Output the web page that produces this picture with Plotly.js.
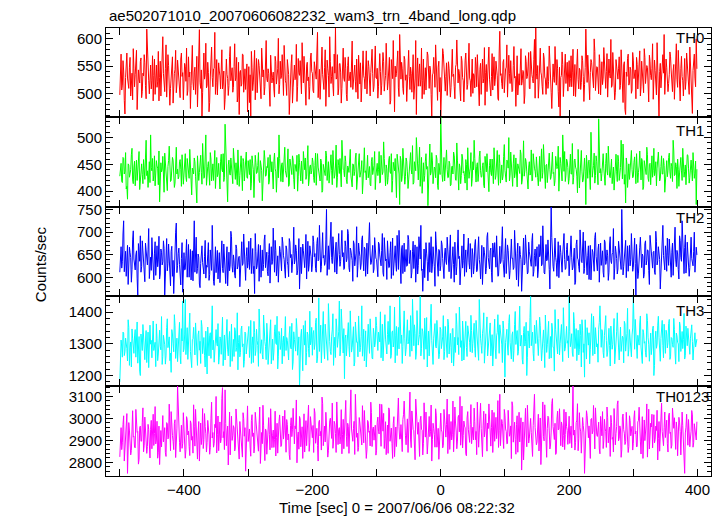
<!DOCTYPE html>
<html>
<head>
<meta charset="utf-8">
<script src="https://cdn.plot.ly/plotly-3.0.1.min.js"></script>
<style>html,body{margin:0;padding:0;background:#fff;}#chart{width:724px;height:516px;}</style>
</head>
<body>
<div id="chart"></div>
<script>
// 1 s bins from -500 s; "Even" arrays hold t = -500, -498, ...; "Odd" arrays hold t = -499, -497, ...
const tStart = -500;

const th0Even = [
497,572,515,541,462,553,528,509,566,521,488,545,534,579,503,526,558,492,537,571,514,618,531,499,552,
524,486,563,540,511,577,529,495,548,536,503,589,522,551,478,533,567,516,544,501,561,527,492,574,538,
512,549,583,505,530,472,556,521,539,498,568,535,617,509,458,547,526,592,514,538,483,561,529,545,612,
520,497,556,532,575,508,541,489,563,527,514,586,536,502,549,523,566,495,461,542,517,571,530,507,554,
526,483,458,548,519,579,535,501,562,528,490,556,543,512,597,521,536,476,553,529,508,568,517,545,499,
559,532,514,588,523,496,547,461,538,571,510,552,527,485,564,533,506,593,519,541,478,557,530,512,574,
537,501,548,526,612,518,489,563,535,507,580,524,546,493,559,531,515,572,620,528,497,554,539,509,583,
522,545,486,567,533,511,596,529,552,502,538,570,517,484,556,532,508,578,524,549,495,561,536,513,587,
527,491,558,540,515,575,504,533,549,521,566,487,539,597,466,530,553,510,608,526,545,498,562,534,518,
579,507,536,552,489,528,461,565,541,513,583,524,498,547,532,570,509,543,456,537,521,589,515,548,503,
458,542,573,519,531,496,558,527,511,581,535,490,553,525,544,506,568,529,484,561,537,516,592,523,549,
500,533,566,512,547,477,555,530,519,584,538,503,551,526,495,573,541,514,559,532,487,614,536,508,562,
529,548,493,570,518,540,505,586,531,554,497,536,563,515,542,481,569,527,550,509,577,534,519,599,620,
526,491,557,539,512,574,530,498,549,522,566,502,541,529,586,515,545,475,458,533,553,519,572,536,504,
560,527,512,581,538,494,551,525,546,507,569,531,516,618,520,543,488,562,535,510,577,529,548,499,555,
533,516,584,522,540,493,563,528,511,575,537,502,550,526,567,514,545,483,558,461,531,572,519,543,506,
561,534,490,553,527,578,512,539,501,566,530,547,484,559,525,591,518,542,497,536,458,555,529,571,608,
520,548,503,534,567,514,541,489,560,526,579,508,545,531,495,564,522,551,510,585,537,463,556,528,600
];
const th0Odd = [
541,506,560,487,529,574,516,548,495,537,582,512,551,470,543,519,565,503,532,556,490,573,524,547,508,
569,533,498,552,521,486,559,538,604,515,546,493,571,528,509,554,482,536,579,517,540,500,563,531,488,
555,522,496,567,539,514,588,506,548,529,475,560,520,543,501,574,535,510,557,466,530,585,512,546,498,
562,526,541,508,580,517,470,553,535,496,568,523,547,511,591,529,484,557,538,513,572,502,545,526,466,
549,534,577,505,541,488,564,522,551,514,583,530,497,560,527,545,506,570,519,539,493,558,532,601,516,
527,571,496,543,518,562,535,507,554,482,546,525,590,513,538,560,499,531,568,509,550,523,489,565,540,
505,558,529,574,492,544,520,585,511,547,476,561,533,604,518,549,495,537,526,571,508,555,482,542,528,
566,498,551,523,539,585,507,545,521,563,490,534,556,510,578,527,547,499,560,515,538,581,503,552,529,
546,512,573,497,535,558,521,592,506,541,480,562,527,515,550,536,578,494,532,557,509,568,524,485,556,
531,548,502,571,519,597,537,513,554,526,490,563,540,506,576,522,550,498,534,566,511,544,487,559,529,
515,582,538,504,556,527,545,493,570,531,512,548,598,519,537,486,560,523,541,574,507,552,528,494,563,
536,510,550,571,522,544,498,563,527,478,553,540,585,514,531,506,567,526,549,490,574,533,518,557,501,
545,589,520,536,560,503,551,528,476,569,534,515,582,523,540,497,558,531,575,508,545,527,562,491,537,
551,517,583,532,498,565,526,543,509,587,535,472,554,520,539,562,503,548,529,576,494,541,518,557,531,
512,569,539,495,553,526,581,508,542,520,560,485,547,535,570,511,538,557,523,600,505,549,532,571,497,
558,528,545,509,573,521,536,599,514,550,488,562,531,545,507,580,526,552,470,539,564,515,548,500,575,
527,543,566,508,537,495,559,530,582,518,551,504,570,533,546,489,561,525,593,515,540,510,557,537,498,
563,532,518,576,541,503,553,527,591,511,545,486,568,523,549,507,574,536,498,555,520,542,572,512,545
];

const th1Even = [
428,452,416,461,437,404,385,449,433,468,421,445,410,458,439,474,426,451,414,443,462,429,407,455,505,
438,419,466,431,447,412,380,453,440,425,471,434,401,457,444,420,463,436,415,482,441,427,459,409,448,
432,470,418,446,424,456,393,437,462,428,378,451,435,467,413,443,426,505,439,455,411,460,433,420,476,
445,427,452,404,469,436,418,525,441,380,458,430,447,414,465,422,438,477,409,450,434,461,419,444,426,
457,431,402,466,440,421,453,435,472,416,448,382,437,460,429,444,413,468,436,423,456,442,398,463,505,
433,449,417,461,438,426,479,412,445,431,458,404,442,467,428,453,419,436,474,440,422,457,410,446,432,
462,425,448,411,470,437,419,454,401,443,429,466,436,415,451,439,476,424,447,407,459,433,420,495,441,
427,455,414,444,463,430,408,449,437,471,418,452,426,440,395,458,435,421,467,443,412,456,431,448,403,
446,429,474,417,450,436,461,410,442,425,465,433,398,454,438,419,469,444,375,457,428,447,413,462,436,
421,459,440,485,416,449,500,427,452,409,463,434,418,456,441,373,448,430,472,414,445,425,460,403,437,
539,431,454,419,466,440,426,451,412,447,473,433,420,458,402,444,429,462,437,415,450,481,424,443,409,
455,495,432,446,418,464,438,427,453,406,441,470,423,448,435,460,414,444,429,476,411,452,437,421,465,
439,417,456,500,430,445,409,468,434,422,451,440,477,413,447,428,461,436,404,455,432,419,470,443,426,
452,410,465,438,424,487,431,449,416,458,441,427,473,435,420,454,446,400,463,429,505,437,418,460,444,
423,469,432,413,457,445,428,478,406,450,436,421,462,375,441,455,430,510,426,448,415,466,439,535,434,
419,458,443,411,471,430,447,425,460,438,402,453,436,467,420,444,429,488,413,378,450,433,422,461,440,
427,464,414,449,435,475,421,456,408,443,431,468,418,452,439,426,480,436,410,459,445,423,466,432,448,
415,457,438,471,424,446,495,429,453,405,441,434,463,420,450,437,412,468,443,426,458,419,447,433,375
];
const th1Odd = [
447,418,463,432,472,409,451,426,440,480,414,456,436,420,466,403,448,431,459,422,495,438,453,416,444,
461,430,410,457,443,475,421,436,465,398,452,427,446,484,418,439,458,407,470,432,423,455,441,468,413,
449,426,461,437,478,410,443,432,455,392,466,420,448,435,489,424,458,411,446,430,472,419,451,440,405,
463,432,417,456,441,470,425,490,405,449,434,462,421,480,438,453,412,445,429,466,401,455,437,473,424,
442,459,415,451,388,467,433,448,420,457,439,411,476,428,446,463,419,440,455,404,471,436,452,425,461,
418,453,440,482,427,447,409,460,434,466,422,450,437,400,469,431,456,414,443,462,428,485,421,449,438,
454,416,471,434,445,427,460,398,450,437,475,420,455,433,468,412,444,430,486,425,448,461,408,452,439,
466,421,447,435,478,416,451,429,462,403,444,470,432,457,419,481,438,454,425,446,410,463,437,474,428,
452,440,415,467,431,492,424,449,413,458,436,470,420,445,461,388,451,432,465,418,480,441,427,456,405,
447,472,432,413,455,438,466,421,482,440,396,453,429,470,446,417,488,435,458,424,443,467,411,452,431,
449,418,463,440,477,425,456,410,445,432,466,421,490,438,451,414,469,434,427,459,402,447,436,472,423,
440,461,417,453,432,475,426,448,411,465,436,452,399,460,429,443,481,422,456,434,468,415,449,428,487,
431,458,443,419,473,436,451,425,462,408,447,433,469,421,494,438,455,412,445,430,477,420,452,437,464,
426,447,418,479,435,459,405,450,438,471,422,457,433,410,465,442,484,427,452,419,441,474,430,456,413,
448,432,489,426,460,441,397,453,430,476,417,446,436,467,424,458,403,449,438,471,429,455,412,463,442,
433,470,421,452,438,484,427,459,414,445,433,469,418,456,440,495,423,448,431,462,407,451,437,476,425,
454,438,470,416,447,430,461,403,457,435,482,424,450,412,466,439,429,455,443,473,419,446,432,461,398,
443,427,463,436,452,418,475,431,446,460,409,455,438,480,426,449,433,467,415,451,438,472,424,456,441
];

const th2Even = [
612,668,635,725,648,603,671,629,655,590,683,641,617,659,560,637,692,624,650,607,676,633,661,598,645,
688,621,654,605,670,639,597,663,628,681,562,646,615,674,632,658,603,565,649,720,627,665,610,642,568,
655,618,684,636,601,662,624,593,725,640,609,652,586,631,670,614,647,599,623,677,607,638,715,592,628,
611,660,635,589,649,620,674,603,641,582,656,628,690,612,637,599,664,625,647,608,679,631,652,594,666,
633,618,687,642,609,565,658,626,673,638,601,661,629,694,645,613,651,588,668,636,620,682,604,648,631,
657,615,676,640,599,663,627,686,644,611,653,630,672,606,639,575,667,635,659,622,695,641,614,670,646,
628,679,653,612,688,640,665,624,699,649,633,750,658,618,672,644,690,627,661,608,683,651,636,704,655,
620,668,642,697,613,660,638,681,626,654,601,676,647,630,692,615,663,643,608,685,652,634,671,619,657,
640,602,674,629,660,611,688,637,596,651,623,679,645,605,666,632,693,618,654,587,671,638,613,662,627,
684,646,599,657,620,672,635,608,690,641,616,570,663,630,654,593,677,639,611,668,624,701,645,603,659,
626,673,610,652,637,689,615,661,598,646,629,678,606,655,642,584,667,621,696,639,612,658,633,675,601,
650,625,684,613,661,640,597,671,632,656,608,689,644,619,665,590,649,677,623,641,604,669,636,712,627,
654,609,672,638,616,685,643,622,660,595,676,631,651,570,663,628,694,640,612,657,634,681,603,649,625,
668,617,646,692,630,655,608,673,639,621,575,756,642,614,687,634,659,600,671,626,650,697,618,662,637,
604,676,645,623,665,590,683,640,612,657,633,700,620,651,606,670,637,595,662,629,688,647,615,674,641,
627,659,601,678,636,648,612,690,631,655,596,669,642,619,664,627,750,606,649,682,633,614,671,640,658,
623,687,559,646,610,667,634,652,599,675,628,661,616,693,645,621,658,607,680,637,651,575,663,715,630,
670,614,649,685,626,656,605,673,639,660,618,692,644,725,631,666,610,678,647,622,689,636,658,612,667
];
const th2Odd = [
640,621,696,613,658,632,585,667,644,618,703,626,650,599,675,636,612,681,645,591,662,628,708,639,616,
652,595,679,643,624,691,608,656,635,664,600,686,631,646,582,669,638,622,700,611,653,629,584,677,634,
617,648,601,673,626,595,659,638,612,689,620,645,578,664,633,608,682,627,650,594,661,616,641,583,668,
632,597,655,622,681,611,642,587,668,630,615,702,624,650,605,672,619,643,580,661,627,696,613,647,621,
680,641,609,664,625,697,619,652,592,671,637,615,683,622,656,604,675,643,629,709,612,660,634,590,669,
624,689,648,617,670,636,602,678,651,626,711,639,660,615,686,643,609,674,631,652,597,680,628,657,613,
692,646,620,675,637,715,612,664,643,627,683,605,670,649,722,631,656,612,678,641,697,625,667,646,618,
681,635,706,622,665,648,592,674,639,712,627,659,618,684,641,667,603,676,636,721,629,660,611,688,643,
616,678,650,626,697,603,662,641,681,622,655,598,687,637,670,614,648,704,629,663,609,676,646,625,693,
631,660,612,680,643,590,668,627,651,715,619,645,600,677,636,659,612,690,628,653,581,672,634,662,615,
681,642,598,665,629,656,613,694,636,668,590,653,625,705,647,616,670,638,603,661,632,687,619,649,664,
608,672,643,617,690,628,655,585,667,641,620,699,634,659,612,676,645,624,692,603,658,631,672,640,601,
686,633,660,597,675,642,618,704,627,653,581,669,640,616,687,632,655,608,678,646,625,697,614,663,639,
600,673,650,626,714,611,661,637,683,618,648,688,625,670,645,603,679,632,655,612,689,640,621,676,648,
631,692,617,658,585,673,643,624,705,636,660,609,681,627,648,596,671,639,656,614,699,632,662,590,676,
645,612,683,629,661,594,674,637,652,708,621,657,608,680,640,618,691,625,665,600,670,645,626,697,614,
662,631,673,598,654,689,622,647,607,681,638,660,585,670,633,656,612,702,628,668,640,606,692,649,617,
655,687,627,664,601,676,640,711,624,652,597,682,636,665,609,694,630,657,603,679,642,626,700,638,650
];

const th3Even = [
1180,1312,1258,1334,1275,1301,1246,1352,1289,1227,1318,1270,1345,1296,1239,1323,1200,1284,1361,1265,1309,1241,1337,1278,1299,
1256,1372,1290,1228,1316,1268,1343,1281,1235,1327,1297,1262,1379,1304,1247,1210,1331,1275,1357,1292,1244,1320,1263,1348,1435,
1283,1440,1306,1251,1338,1276,1225,1317,1294,1366,1259,1329,1280,1238,1355,1301,1264,1340,1205,1287,1326,1254,1420,1311,1272,
1345,1293,1236,1322,1267,1384,1304,1249,1335,1281,1313,1228,1362,1297,1260,1341,1288,1218,1327,1273,1356,1300,1245,1333,1286,
1319,1257,1374,1295,1241,1336,1278,1310,1229,1352,1291,1266,1391,1307,1250,1328,1284,1343,1237,1315,1274,1360,1298,1221,1339,
1282,1349,1305,1261,1386,1320,1252,1331,1290,1365,1243,1314,1277,1347,1300,1168,1325,1269,1358,1296,1233,1337,1285,1403,1310,
1264,1342,1299,1381,1255,1445,1318,1240,1329,1287,1362,1306,1248,1339,1276,1322,1395,1292,1257,1350,1313,1435,1283,1336,1271,
1190,1328,1302,1367,1259,1317,1289,1354,1242,1333,1306,1388,1275,1324,1261,1346,1298,1227,1340,1312,1379,1285,1252,1331,1303,
1358,1279,1322,1401,1296,1246,1343,1315,1268,1371,1309,1254,1337,1290,1416,1327,1263,1352,1450,1301,1238,1345,1318,1283,1376,
1307,1260,1349,1441,1294,1332,1271,1368,1315,1450,1286,1340,1251,1324,1383,1299,1262,1351,1311,1235,1336,1292,1374,1320,1267,
1345,1303,1389,1276,1328,1257,1362,1314,1289,1347,1230,1321,1396,1297,1266,1339,1310,1372,1249,1326,1288,1357,1316,1275,1342,
1301,1365,1258,1333,1292,1440,1318,1270,1350,1239,1323,1385,1296,1344,1262,1329,1307,1378,1253,1336,1284,1360,1313,1241,1348,
1195,1320,1290,1367,1305,1252,1338,1279,1402,1316,1264,1349,1293,1327,1236,1355,1308,1200,1341,1287,1450,1322,1270,1359,1301,
1336,1263,1384,1314,1278,1344,1225,1330,1297,1371,1312,1255,1347,1289,1408,1324,1268,1339,1302,1361,1244,1320,1285,1355,1310,
1450,1291,1332,1260,1368,1305,1247,1343,1283,1326,1376,1273,1195,1318,1351,1296,1237,1334,1309,1387,1268,1329,1300,1346,1420,
1289,1337,1256,1362,1311,1274,1349,1230,1323,1298,1380,1265,1338,1306,1249,1353,1292,1319,1371,1277,1333,1261,1345,1302,1328,
1450,1283,1341,1254,1316,1366,1290,1238,1335,1307,1258,1374,1299,1327,1266,1348,1200,1313,1286,1359,1321,1245,1338,1295,1362,
1270,1331,1304,1377,1259,1318,1289,1346,1236,1325,1300,1369,1276,1339,1313,1252,1356,1294,1322,1267,1341,1307,1284,1335,1298
];
const th3Odd = [
1252,1290,1337,1263,1318,1285,1376,1232,1306,1347,1271,1325,1258,1369,1294,1214,1331,1279,1303,1250,1342,1287,1225,1359,1311,
1340,1279,1305,1363,1247,1329,1292,1386,1260,1314,1236,1351,1288,1322,1271,1345,1300,1392,1254,1318,1283,1368,1237,1309,1275,
1328,1266,1351,1290,1397,1241,1313,1352,1265,1296,1232,1341,1308,1374,1269,1320,1227,1297,1353,1262,1335,1389,1281,1242,1325,
1301,1364,1258,1317,1345,1231,1328,1296,1377,1262,1339,1290,1245,1314,1351,1276,1398,1304,1259,1346,1291,1226,1337,1268,1315,
1355,1287,1238,1322,1371,1263,1346,1295,1410,1270,1313,1252,1330,1292,1365,1235,1318,1376,1281,1248,1340,1302,1387,1259,1327,
1296,1237,1324,1372,1279,1311,1249,1355,1284,1219,1338,1301,1380,1264,1322,1291,1346,1215,1308,1373,1273,1329,1258,1297,1352,
1330,1282,1368,1240,1312,1276,1359,1298,1402,1253,1325,1285,1427,1307,1266,1344,1232,1321,1379,1289,1338,1262,1410,1299,1348,
1317,1262,1355,1291,1404,1274,1336,1230,1369,1305,1259,1327,1288,1420,1302,1246,1341,1296,1362,1270,1318,1255,1349,1290,1385,
1280,1337,1306,1256,1362,1319,1392,1271,1330,1298,1420,1263,1341,1306,1240,1355,1315,1284,1372,1328,1291,1404,1262,1336,1300,
1342,1389,1277,1318,1360,1251,1405,1296,1330,1262,1348,1309,1381,1283,1227,1340,1302,1425,1270,1318,1364,1287,1332,1253,1352,
1285,1322,1250,1355,1300,1378,1268,1333,1240,1349,1307,1273,1362,1320,1416,1289,1246,1334,1298,1371,1260,1344,1305,1390,1272,
1329,1286,1374,1311,1248,1357,1295,1332,1398,1278,1345,1262,1315,1366,1301,1230,1352,1284,1325,1392,1270,1343,1299,1372,1263,
1305,1346,1264,1392,1281,1328,1244,1361,1298,1342,1275,1419,1312,1251,1336,1293,1368,1258,1322,1383,1294,1337,1246,1318,1374,
1290,1317,1357,1246,1332,1301,1391,1273,1340,1253,1323,1365,1289,1214,1345,1306,1378,1265,1331,1297,1414,1277,1340,1302,1256,
1338,1306,1271,1399,1285,1348,1318,1265,1362,1227,1341,1300,1376,1252,1310,1335,1283,1395,1263,1325,1351,1290,1242,1368,1306,
1345,1273,1327,1389,1260,1336,1295,1356,1283,1349,1237,1322,1398,1287,1344,1276,1324,1240,1363,1301,1412,1282,1318,1259,1350,
1312,1377,1266,1327,1296,1388,1253,1345,1302,1272,1395,1319,1245,1334,1290,1356,1232,1340,1299,1387,1268,1317,1374,1256,1309,
1343,1287,1364,1251,1320,1298,1380,1271,1334,1304,1244,1357,1312,1285,1396,1263,1326,1349,1278,1318,1360,1249,1330,1290,1315
];

const th0123Even = [
2825,2958,2889,3012,2872,2936,2750,2981,2907,2854,3035,2918,2866,2992,2940,2813,2965,2897,3048,2878,2929,2841,2973,2905,2951,
2862,3019,2931,2884,2987,2846,2790,2945,3003,2893,2958,2827,2976,2912,2870,3031,2923,2858,2994,2901,3150,2935,2848,2969,2887,
2947,2819,3008,2925,2873,2989,2901,2842,2962,3041,2880,2938,2806,2979,2915,2863,3022,2930,2890,2956,2837,2998,2911,2869,2973,
3100,2926,2853,2984,2908,3140,2940,3130,2876,2965,2897,2834,3010,2921,2957,2866,2993,2904,2815,2948,2882,3026,2919,2760,2971,
2895,2952,2828,3017,2934,2874,2988,2910,2851,3052,2927,2885,2966,2808,2944,2899,3004,2857,2976,2921,2868,3033,2913,2842,2985,
2930,2879,3011,2946,2861,2995,2902,2835,2968,2917,3046,2884,2953,2798,2938,3009,2871,2962,2906,2847,2990,2924,3061,2889,2957,
2912,2845,3024,2939,2877,2983,2920,2856,3068,2947,2893,2970,2824,2951,3001,2909,2864,2987,2932,3075,2881,2958,2916,2839,2996,
2940,3082,2872,2963,2927,3130,2898,2954,2836,3015,2933,2868,2979,2913,3058,2889,2946,2818,2991,2937,2875,3027,2954,2901,2969,
2855,3006,2929,2891,3064,2942,2863,2985,2918,2841,3039,2950,2887,2976,2826,2961,2931,3093,2906,2972,2849,3017,2939,2880,2998,
2923,3120,2867,2982,2944,2812,3036,2928,2873,2993,2951,2834,3071,2915,2962,2888,3009,2940,2806,2978,2927,3044,2869,2955,2900,
3024,2938,2876,2997,2915,3088,2953,2859,2986,2926,2848,3052,2943,2897,3014,3100,2934,2866,2988,2957,2830,3031,2919,2971,2885,
2960,3047,2903,2835,2981,2938,3069,2880,2966,2916,3021,2851,2954,2989,2874,3038,2932,2896,3005,2947,2868,3110,2925,2977,2863,
3015,2941,2886,2999,2928,2817,3057,2950,2905,2973,2846,3028,2936,2765,2984,2923,3046,2871,2958,2910,3000,2858,2967,3110,2931,
2893,3019,2946,2790,2975,2917,3062,2884,2955,3004,2861,2938,3090,2922,2978,2843,3033,2952,2899,2984,2870,3041,2927,2963,2882,
3010,2934,2866,3150,2947,2891,2992,2853,3026,2939,2905,2968,2750,2957,3013,2912,2875,2996,2930,3059,2861,2949,2918,2983,2839,
2974,3031,2901,2956,2868,3003,2937,2827,2981,2914,3045,2880,2963,3080,2909,2952,2857,3020,2933,2894,2979,2845,3012,2921,2964,
2887,3035,2942,2873,2990,2916,2838,3008,2951,2899,2975,2824,3042,2929,2961,2866,3017,2904,2945,2811,2986,2932,3070,2880,2958,
2913,2992,2847,3024,2937,2878,2969,3003,2859,2948,2918,2983,2834,3029,2906,2750,2960,2925,2995,2871,2942,3016,2889,2954,2902
];
const th0123Odd = [
2903,2858,2972,2806,2921,3022,2880,2947,2834,2996,2915,2869,3041,2937,2792,2960,2896,2983,2848,3006,2925,2872,2950,2820,2991,
2934,2877,3054,2902,2819,2965,2941,2870,3013,2926,2844,2981,2907,3065,2853,2939,2896,2978,2822,2956,3037,2891,2948,2864,3026,
2911,2858,2995,2942,2831,2977,2918,3062,2874,2950,2815,2986,2929,2881,3045,2904,2963,2847,2991,2925,2868,3074,2936,2886,2958,
2843,3011,2952,2889,3090,2912,2858,2976,2934,2788,3029,2941,2900,2967,2852,3043,2918,2874,2986,2936,2824,2999,2958,2895,3057,
2941,2870,2990,2918,2843,3028,2955,2880,2971,2795,2936,3060,2891,2952,2837,2983,2926,3044,2867,2947,2905,2829,2978,2938,3016,
2872,2959,2906,3037,2846,2973,2929,2812,3003,2951,2889,2966,3084,2916,2860,2998,2936,2818,3021,2944,2876,2971,2850,3008,2933,
2968,3045,2887,2955,2806,2992,2941,3097,2876,2965,3028,2915,2853,2989,2939,3070,2897,2974,2845,3012,2948,2884,3040,2926,2862,
3003,2919,2978,2841,3059,2952,2896,2987,3110,2914,2850,3004,2944,2879,2968,3036,2905,2857,2984,2943,3074,2872,2961,2925,2833,
2983,2941,3066,2873,2957,3023,2909,2835,2970,3048,2896,2956,2818,3008,2937,2872,3041,2962,2907,2855,2995,3079,2921,2964,2845,
2976,2902,3034,2950,2861,3088,2937,2982,2827,3010,2946,2885,2961,3029,2838,2990,2917,3061,2903,2954,2869,3015,2942,2814,2986,
2948,2866,3041,2927,2973,2840,3019,2956,2902,3079,2934,2979,2862,3006,2939,2878,3056,2923,2965,2839,3002,2948,2891,3063,2930,
2902,2985,2941,3074,2869,3010,2955,2826,3033,2948,2893,2979,3066,2910,2958,2845,3027,2963,2908,3081,2944,2876,2995,2929,3041,
2952,2884,3037,2919,2966,3076,2892,2983,2837,3012,2949,2893,3003,2944,2811,2971,2929,3060,2888,2991,2937,2827,3030,2958,2880,
2969,2852,3002,2936,3075,2898,2958,2823,3010,2943,2879,3068,2963,2904,2836,2997,2948,3044,2876,2967,2922,2858,3029,2945,3001,
2886,2965,3042,2924,2856,2981,3067,2907,2958,2842,3004,2938,2889,3035,2927,2966,2818,3000,2943,2884,3048,2926,2977,2861,3009,
2921,2863,2996,2940,3052,2889,2961,3014,2905,2847,2975,2932,3064,2898,2966,2823,3007,2949,2881,3028,2943,2872,2991,2937,2856,
3002,2929,2870,2984,3051,2897,2948,2818,2993,2935,3066,2911,2861,2978,3019,2945,2889,2965,3037,2909,2851,2997,2940,2876,3029,
2947,2885,3011,2932,2864,3047,2955,2898,2984,2830,3005,2940,2903,2967,2788,2934,3019,2878,2953,2911,3036,2869,2976,2927,2985
];

const seriesNames = ['TH0', 'TH1', 'TH2', 'TH3', 'TH0123'];
const seriesEven = [th0Even, th1Even, th2Even, th3Even, th0123Even];
const seriesOdd = [th0Odd, th1Odd, th2Odd, th3Odd, th0123Odd];
const seriesColors = ['#ff0000', '#00ff00', '#0000ff', '#00ffff', '#ff00ff'];
const yRanges = [[457, 620], [371, 539], [559, 756], [1168, 1450], [2738, 3149]];
const yMajor = [50, 50, 50, 100, 100];
const yMinor = [10, 10, 10, 20, 20];
const xTickVals = [-500, -400, -300, -200, -100, 0, 100, 200, 300, 400];
const xTickText = ['', '\u2212400', '', '\u2212200', '', '0', '', '200', '', '400'];
const titleText = 'ae502071010_20070606082232_wam3_trn_4band_long.qdp';
const xTitleText = 'Time [sec] 0 = 2007/06/06 08:22:32';
const yTitleText = 'Counts/sec';

const domains = [[0.8020, 1], [0.6011, 0.8020], [0.4011, 0.6011], [0.2016, 0.4011], [0, 0.2016]];
const labelPos = [[0.9388, 0.9795], [0.9388, 0.7723], [0.9388, 0.5763], [0.9388, 0.3694], [0.9058, 0.1775]];

const FONT = 'Liberation Sans, Arial, Helvetica, sans-serif';
const traces = [];
const layout = {
  width: 724, height: 516,
  margin: {l: 106, r: 13, t: 28, b: 40},
  paper_bgcolor: '#ffffff', plot_bgcolor: '#ffffff',
  showlegend: false,
  font: {family: FONT, size: 15, color: '#000'},
  annotations: []
};

seriesEven.forEach((even, k) => {
  const odd = seriesOdd[k];
  const n = k + 1;
  const sfx = n === 1 ? '' : String(n);
  const xs = [], ys = [];
  for (let i = 0; i < even.length; i++) {
    xs.push(tStart + 2 * i); ys.push(even[i]);
    if (i < odd.length) { xs.push(tStart + 2 * i + 1); ys.push(odd[i]); }
  }
  traces.push({
    type: 'scatter', mode: 'lines', x: xs, y: ys,
    xaxis: 'x' + sfx, yaxis: 'y' + sfx,
    line: {color: seriesColors[k], width: 1}, hoverinfo: 'skip'
  });
  const xa = {
    range: [-521.5, 421], domain: [0, 1], anchor: 'y' + sfx,
    tickmode: 'array', tickvals: xTickVals, ticktext: xTickText,
    ticks: 'inside', ticklen: 7, tickwidth: 1, tickcolor: '#000',
    showline: true, linecolor: '#000', linewidth: 1, mirror: 'ticks',
    showgrid: false, zeroline: false,
    showticklabels: k === 4, tickfont: {family: FONT, size: 15, color: '#000'}
  };
  if (n > 1) xa.matches = 'x';
  const ya = {
    range: yRanges[k], domain: domains[k], anchor: 'x' + sfx,
    dtick: yMajor[k], tick0: 0,
    ticks: 'inside', ticklen: 7, tickwidth: 1, tickcolor: '#000',
    minor: {dtick: yMinor[k], tick0: 0, ticks: 'inside', ticklen: 4, tickwidth: 1, tickcolor: '#000', showgrid: false},
    showline: true, linecolor: '#000', linewidth: 1, mirror: 'ticks',
    showgrid: false, zeroline: false,
    tickfont: {family: FONT, size: 15, color: '#000'}
  };
  layout['xaxis' + sfx] = xa;
  layout['yaxis' + sfx] = ya;
  layout.annotations.push({
    text: seriesNames[k], xref: 'paper', yref: 'paper',
    x: labelPos[k][0], y: labelPos[k][1], xanchor: 'left', yanchor: 'middle',
    showarrow: false, font: {family: FONT, size: 15, color: '#000'}
  });
});

layout.annotations.push({
  text: titleText, xref: 'paper', yref: 'paper', x: 0.0017, y: 1.029,
  xanchor: 'left', yanchor: 'middle', showarrow: false,
  font: {family: FONT, size: 15, color: '#000'}
});
layout.annotations.push({
  text: xTitleText, xref: 'paper', yref: 'paper', x: 0.4818, y: -0.0692,
  xanchor: 'center', yanchor: 'middle', showarrow: false,
  font: {family: FONT, size: 15, color: '#000'}
});
layout.annotations.push({
  text: yTitleText, xref: 'paper', yref: 'paper', x: -0.109, y: 0.473,
  xanchor: 'center', yanchor: 'middle', textangle: -90, showarrow: false,
  font: {family: FONT, size: 15, color: '#000'}
});

Plotly.newPlot('chart', traces, layout, {staticPlot: true, displayModeBar: false});
</script>
</body>
</html>
